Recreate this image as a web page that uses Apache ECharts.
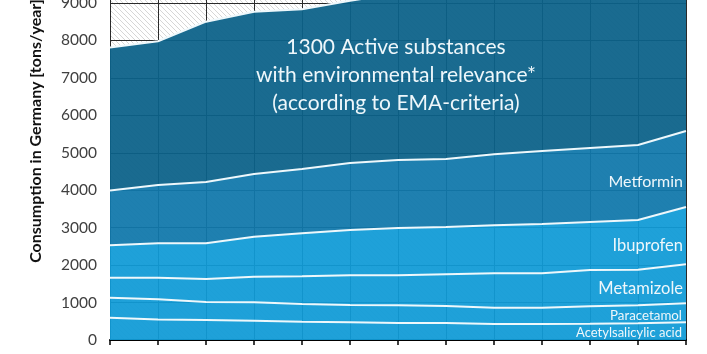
<!DOCTYPE html>
<html>
<head>
<meta charset="utf-8">
<title>Consumption in Germany</title>
<script src="https://cdn.jsdelivr.net/npm/echarts@6/dist/echarts.min.js"></script>
<style>
html,body{margin:0;padding:0;background:#fff;}
#chart{width:707px;height:354px;}
</style>
</head>
<body>
<div id="chart"></div>
<script>
// years (axis labels are cut off in the picture)
var years = ['2002','2003','2004','2005','2006','2007','2008','2009','2010','2011','2012','2013','2014'];
// tons/year, bottom to top of the stack
var acetylsalicylic = [595, 550, 534, 516, 490, 473, 454, 454, 427, 427, 435, 446, 473];
var paracetamol = [535, 537, 481, 490, 471, 462, 472, 454, 435, 435, 465, 480, 507];
var metamizole = [534, 577, 614, 684, 739, 792, 801, 846, 918, 918, 969, 952, 1040];
var ibuprofen = [864, 917, 952, 1069, 1148, 1210, 1264, 1263, 1282, 1317, 1282, 1326, 1531];
var metformin = [1462, 1558, 1638, 1674, 1718, 1789, 1815, 1816, 1896, 1950, 1976, 2003, 2030];
var others = [3820, 3837, 4281, 4334, 4264, 4334, 4444, 4567, 4542, 4553, 4573, 4593, 4319];
var yTicks = [0, 1000, 2000, 3000, 4000, 5000, 6000, 7000, 8000, 9000, 10000];

// hatch for the grid background
var hatch = document.createElement('canvas');
hatch.width = 5; hatch.height = 5;
var hc = hatch.getContext('2d');
hc.strokeStyle = '#d6d6d6';
hc.lineWidth = 1;
hc.beginPath();
hc.moveTo(0, 0); hc.lineTo(5, 5);
hc.moveTo(-1, 4); hc.lineTo(1, 6);
hc.moveTo(4, -1); hc.lineTo(6, 1);
hc.stroke();

var chart = echarts.init(document.getElementById('chart'));

function layer(name, data, color) {
    return {
        name: name,
        type: 'line',
        stack: 'total',
        data: data,
        showSymbol: false,
        symbol: 'none',
        lineStyle: {color: '#eef8fc', width: 2},
        areaStyle: {color: color, opacity: 0.94},
        emphasis: {disabled: true}
    };
}

function label(text, x, y, size, align, weight) {
    return {
        type: 'text', x: x, y: y, z: 100,
        style: {
            text: text, fill: '#eef7fb', fontSize: size, fontFamily: 'Lato',
            fontWeight: weight || 'normal', align: align || 'right', verticalAlign: 'middle', lineHeight: 28
        }
    };
}

var axisTitle = label('Consumption in Germany [tons/year]', 36, 131, 16, 'center', 'bold');
axisTitle.style.fill = '#111';
axisTitle.rotation = Math.PI / 2;

var option = {
    animation: false,
    grid: {
        left: 110, right: 21, top: -34.5, bottom: 14,
        containLabel: false,
        outerBoundsMode: 'none',
        show: true,
        backgroundColor: {image: hatch, repeat: 'repeat'},
        borderWidth: 0
    },
    xAxis: {
        type: 'category',
        data: years,
        boundaryGap: false,
        axisLine: {lineStyle: {color: '#000', width: 2}},
        axisTick: {show: true, length: 5, lineStyle: {color: '#000', width: 1.5}},
        axisLabel: {show: false},
        splitLine: {show: true, lineStyle: {color: '#2a2a2a', width: 1}}
    },
    yAxis: {
        type: 'value',
        min: yTicks[0],
        max: yTicks[yTicks.length - 1],
        interval: 1000,
        axisLine: {show: false},
        axisTick: {show: false},
        axisLabel: {color: '#404040', fontSize: 15.5, fontFamily: 'Lato', margin: 13,
                    formatter: function (v) { return String(v); }},
        splitLine: {lineStyle: {color: '#2a2a2a', width: 1}}
    },
    series: [
        layer('Acetylsalicylic acid', acetylsalicylic, '#119bd7'),
        layer('Paracetamol', paracetamol, '#119bd7'),
        layer('Metamizole', metamizole, '#119bd7'),
        layer('Ibuprofen', ibuprofen, '#119bd7'),
        layer('Metformin', metformin, '#1178ab'),
        layer('1300 Active substances', others, '#0c6289')
    ],
    graphic: {
        elements: [
            axisTitle,
            label('1300 Active substances\nwith environmental relevance*\n(according to EMA-criteria)', 396, 75, 21, 'center'),
            label('Metformin', 683, 182, 16),
            label('Ibuprofen', 683, 246, 16.5),
            label('Metamizole', 683, 289, 16.5),
            label('Paracetamol', 682, 316, 13.3),
            label('Acetylsalicylic acid', 682, 333, 13)
        ]
    }
};
chart.setOption(option);
</script>
</body>
</html>
